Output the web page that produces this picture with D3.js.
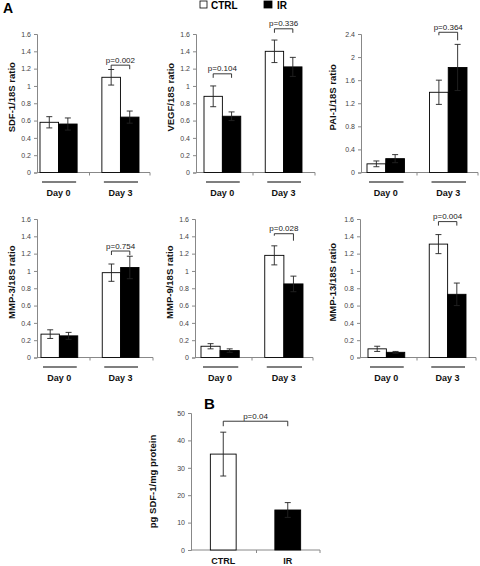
<!DOCTYPE html>
<html><head><meta charset="utf-8">
<script src="https://cdn.jsdelivr.net/npm/d3@7"></script>
<style>
body{margin:0;background:#fff;}
svg{display:block;font-family:"Liberation Sans",Arial,sans-serif;}
</style></head>
<body><svg id="c" width="480" height="566"></svg>
<script>
// ---------- data ----------
const days = ["Day 0", "Day 3"];
const series = ["CTRL", "IR"];
const panelTitles = ["SDF-1/18S ratio", "VEGF/18S ratio", "PAI-1/18S ratio",
                     "MMP-3/18S ratio", "MMP-9/18S ratio", "MMP-13/18S ratio"];
const ctrlMeans = [[0.58, 1.10], [0.88, 1.40], [0.15, 1.39], [0.27, 0.98], [0.13, 1.18], [0.10, 1.31]];
const ctrlErr   = [[0.065, 0.09], [0.12, 0.13], [0.05, 0.21], [0.05, 0.10], [0.03, 0.11], [0.03, 0.11]];
const irMeans   = [[0.56, 0.64], [0.65, 1.22], [0.24, 1.82], [0.25, 1.04], [0.08, 0.85], [0.06, 0.73]];
const irErr     = [[0.07, 0.07], [0.05, 0.11], [0.07, 0.40], [0.04, 0.13], [0.02, 0.09], [0.01, 0.13]];
const yMax = [1.6, 1.6, 2.4, 1.6, 1.6, 1.6];
const ticks16 = [0, 0.2, 0.4, 0.6, 0.8, 1, 1.2, 1.4, 1.6];
const ticks24 = [0, 0.4, 0.8, 1.2, 1.6, 2, 2.4];
const tickLabels16 = ["0", "0.2", "0.4", "0.6", "0.8", "1", "1.2", "1.4", "1.6"];
const tickLabels24 = ["0", "0.4", "0.8", "1.2", "1.6", "2", "2.4"];
const pTests = [
  {panel: 0, day: "Day 3", label: "p=0.002", level: 1.24},
  {panel: 1, day: "Day 0", label: "p=0.104", level: 1.14},
  {panel: 1, day: "Day 3", label: "p=0.336", level: 1.66},
  {panel: 2, day: "Day 3", label: "p=0.364", level: 2.43},
  {panel: 3, day: "Day 3", label: "p=0.754", level: 1.23},
  {panel: 4, day: "Day 3", label: "p=0.028", level: 1.43},
  {panel: 5, day: "Day 3", label: "p=0.004", level: 1.57}
];
// panel B
const bCats = ["CTRL", "IR"];
const bMeans = [35.0, 14.6];
const bErr = [8.0, 2.7];
const bTicks = [0, 10, 20, 30, 40, 50];
const bTitle = "pg SDF-1/mg protein";
const bP = {label: "p=0.04", level: 47};

// ---------- layout (positions only) ----------
const layout = [
  {x0: 37,  b0: 40,  b1: 139, xEnd: 150, yB: 172.5, yT: 34,  tx: 12,  legL: 4, legR: 4},
  {x0: 196, b0: 204, b1: 302, xEnd: 315, yB: 172.5, yT: 34,  tx: 171, legL: 4, legR: 4},
  {x0: 361, b0: 367, b1: 467, xEnd: 478, yB: 172.5, yT: 34,  tx: 333, legL: 3, legR: 8},
  {x0: 37,  b0: 41,  b1: 139, xEnd: 153, yB: 357.5, yT: 219, tx: 12,  legL: 4, legR: 4},
  {x0: 195, b0: 201, b1: 303, xEnd: 313, yB: 357.5, yT: 219, tx: 170, legL: 2, legR: 7},
  {x0: 360, b0: 368, b1: 466, xEnd: 476, yB: 357.5, yT: 219, tx: 333, legL: 4, legR: 4}
];

const svg = d3.select("#c");
const axisColor = "#888";
const tickFill = "#444";

function drawBracket(g, xa, xb, y, legL, legR, label) {
  g.append("path")
    .attr("d", `M${xa},${y + legL}V${y}H${xb}V${y + legR}`)
    .attr("fill", "none").attr("stroke", "#222").attr("stroke-width", 0.9);
  g.append("text").attr("x", (xa + xb) / 2).attr("y", y - 2.5)
    .attr("text-anchor", "middle").attr("font-size", 8).attr("fill", "#222").text(label);
}

function errBar(g, cx, yTop, yBot, w) {
  g.append("path")
    .attr("d", `M${cx},${yTop}V${yBot}M${cx - w},${yTop}H${cx + w}M${cx - w},${yBot}H${cx + w}`)
    .attr("stroke", "#222").attr("stroke-width", 0.9).attr("fill", "none");
}

layout.forEach((L, i) => {
  const g = svg.append("g");
  const y = d3.scaleLinear().domain([0, yMax[i]]).range([L.yB, L.yT]);
  const x = d3.scaleBand().domain(days).range([L.b0, L.b1]).paddingInner(0.4).paddingOuter(0);
  const xs = d3.scaleBand().domain(series).range([0, x.bandwidth()]);
  const ticks = yMax[i] > 2 ? ticks24 : ticks16;
  const labels = yMax[i] > 2 ? tickLabels24 : tickLabels16;

  // y axis
  const ya = d3.axisLeft(y).tickValues(ticks).tickSize(3).tickPadding(3)
    .tickFormat((d, k) => labels[k]);
  const yg = g.append("g").attr("transform", `translate(${L.x0},0)`).call(ya);
  yg.select(".domain").attr("stroke", axisColor);
  yg.selectAll(".tick line").attr("stroke", axisColor);
  yg.selectAll(".tick text").attr("font-size", 7).attr("fill", tickFill)
    .attr("font-family", "Liberation Sans, Arial, sans-serif");

  // x axis line with ticks at category boundaries
  const mid = (x("Day 0") + x.bandwidth() + x("Day 3")) / 2;
  g.append("path").attr("d", `M${L.x0},${L.yB}H${L.xEnd}M${mid},${L.yB}v3M${L.xEnd},${L.yB}v3`)
    .attr("stroke", axisColor).attr("fill", "none").attr("stroke-width", 1);

  // bars
  days.forEach((d, k) => {
    const vals = [ctrlMeans[i][k], irMeans[i][k]];
    const errs = [ctrlErr[i][k], irErr[i][k]];
    series.forEach((s, j) => {
      const bx = x(d) + xs(s);
      g.append("rect").attr("x", bx).attr("y", y(vals[j]))
        .attr("width", xs.bandwidth()).attr("height", L.yB - y(vals[j]))
        .attr("fill", j === 0 ? "#fff" : "#000").attr("stroke", "#000").attr("stroke-width", 0.9);
    });
    series.forEach((s, j) => {
      const cx = x(d) + xs(s) + xs.bandwidth() / 2;
      errBar(g, cx, y(vals[j] + errs[j]), y(vals[j] - errs[j]), 3);
    });
    // group underline and label
    g.append("line").attr("x1", x(d) + 2).attr("x2", x(d) + x.bandwidth() - 1)
      .attr("y1", L.yB + 9.5).attr("y2", L.yB + 9.5).attr("stroke", "#555").attr("stroke-width", 1.3);
    g.append("text").attr("x", x(d) + x.bandwidth() / 2).attr("y", L.yB + 23.5)
      .attr("text-anchor", "middle").attr("font-size", 9).attr("font-weight", "bold")
      .attr("fill", "#111").text(d);
  });

  // y title
  g.append("text").attr("transform", `translate(${L.tx},${(L.yB + L.yT) / 2 - 6}) rotate(-90)`)
    .attr("text-anchor", "middle").attr("dy", "0.35em").attr("font-size", 9.5)
    .attr("font-weight", "bold").attr("fill", "#111").text(panelTitles[i]);

  // p-value brackets
  pTests.filter(p => p.panel === i).forEach(p => {
    const xa = x(p.day) + xs("CTRL") + xs.bandwidth() / 2;
    const xb = x(p.day) + xs("IR") + xs.bandwidth() / 2;
    drawBracket(g, xa, xb, y(p.level), L.legL, L.legR, p.label);
  });
});

// ---------- panel label A and legend ----------
svg.append("text").attr("x", 3).attr("y", 13).attr("font-size", 14).attr("font-weight", "bold").text("A");
const legendX = [200, 264];
series.forEach((s, j) => {
  svg.append("rect").attr("x", legendX[j]).attr("y", 1).attr("width", j === 0 ? 7 : 8).attr("height", 7)
    .attr("fill", j === 0 ? "#fff" : "#000").attr("stroke", "#000").attr("stroke-width", 0.8);
  svg.append("text").attr("x", legendX[j] + (j === 0 ? 11 : 13)).attr("y", 8.5)
    .attr("font-size", 10).attr("font-weight", "bold").text(s);
});

// ---------- panel B ----------
(function () {
  const g = svg.append("g");
  const x0 = 191, xEnd = 320, yB = 550, yT = 413;
  const y = d3.scaleLinear().domain([0, 50]).range([yB, yT]);
  const x = d3.scaleBand().domain(bCats).range([x0, xEnd]).paddingInner(0.6).paddingOuter(0.3);
  const ya = d3.axisLeft(y).tickValues(bTicks).tickSize(3).tickPadding(3);
  const yg = g.append("g").attr("transform", `translate(${x0},0)`).call(ya);
  yg.select(".domain").attr("stroke", axisColor);
  yg.selectAll(".tick line").attr("stroke", axisColor);
  yg.selectAll(".tick text").attr("font-size", 7).attr("fill", tickFill)
    .attr("font-family", "Liberation Sans, Arial, sans-serif");
  const mid = (x0 + xEnd) / 2 + 1;
  g.append("path").attr("d", `M${x0},${yB}H${xEnd}M${mid},${yB}v3M${xEnd},${yB}v3`)
    .attr("stroke", axisColor).attr("fill", "none");
  bCats.forEach((c, j) => {
    g.append("rect").attr("x", x(c)).attr("y", y(bMeans[j])).attr("width", x.bandwidth())
      .attr("height", yB - y(bMeans[j])).attr("fill", j === 0 ? "#fff" : "#000")
      .attr("stroke", "#000").attr("stroke-width", 0.9);
    errBar(g, x(c) + x.bandwidth() / 2, y(bMeans[j] + bErr[j]), y(bMeans[j] - bErr[j]), 3);
    g.append("text").attr("x", x(c) + x.bandwidth() / 2).attr("y", yB + 14)
      .attr("text-anchor", "middle").attr("font-size", 9).attr("font-weight", "bold")
      .attr("fill", "#111").text(c);
  });
  const xa = x("CTRL") + x.bandwidth() / 2, xb = x("IR") + x.bandwidth() / 2;
  drawBracket(g, xa, xb, y(bP.level), 5, 5, bP.label);
  g.append("text").attr("transform", `translate(153,${(yB + yT) / 2}) rotate(-90)`)
    .attr("text-anchor", "middle").attr("dy", "0.35em").attr("font-size", 9.5)
    .attr("font-weight", "bold").attr("fill", "#111").text(bTitle);
  svg.append("text").attr("x", 204).attr("y", 409).attr("font-size", 15).attr("font-weight", "bold").text("B");
})();
</script></body></html>
